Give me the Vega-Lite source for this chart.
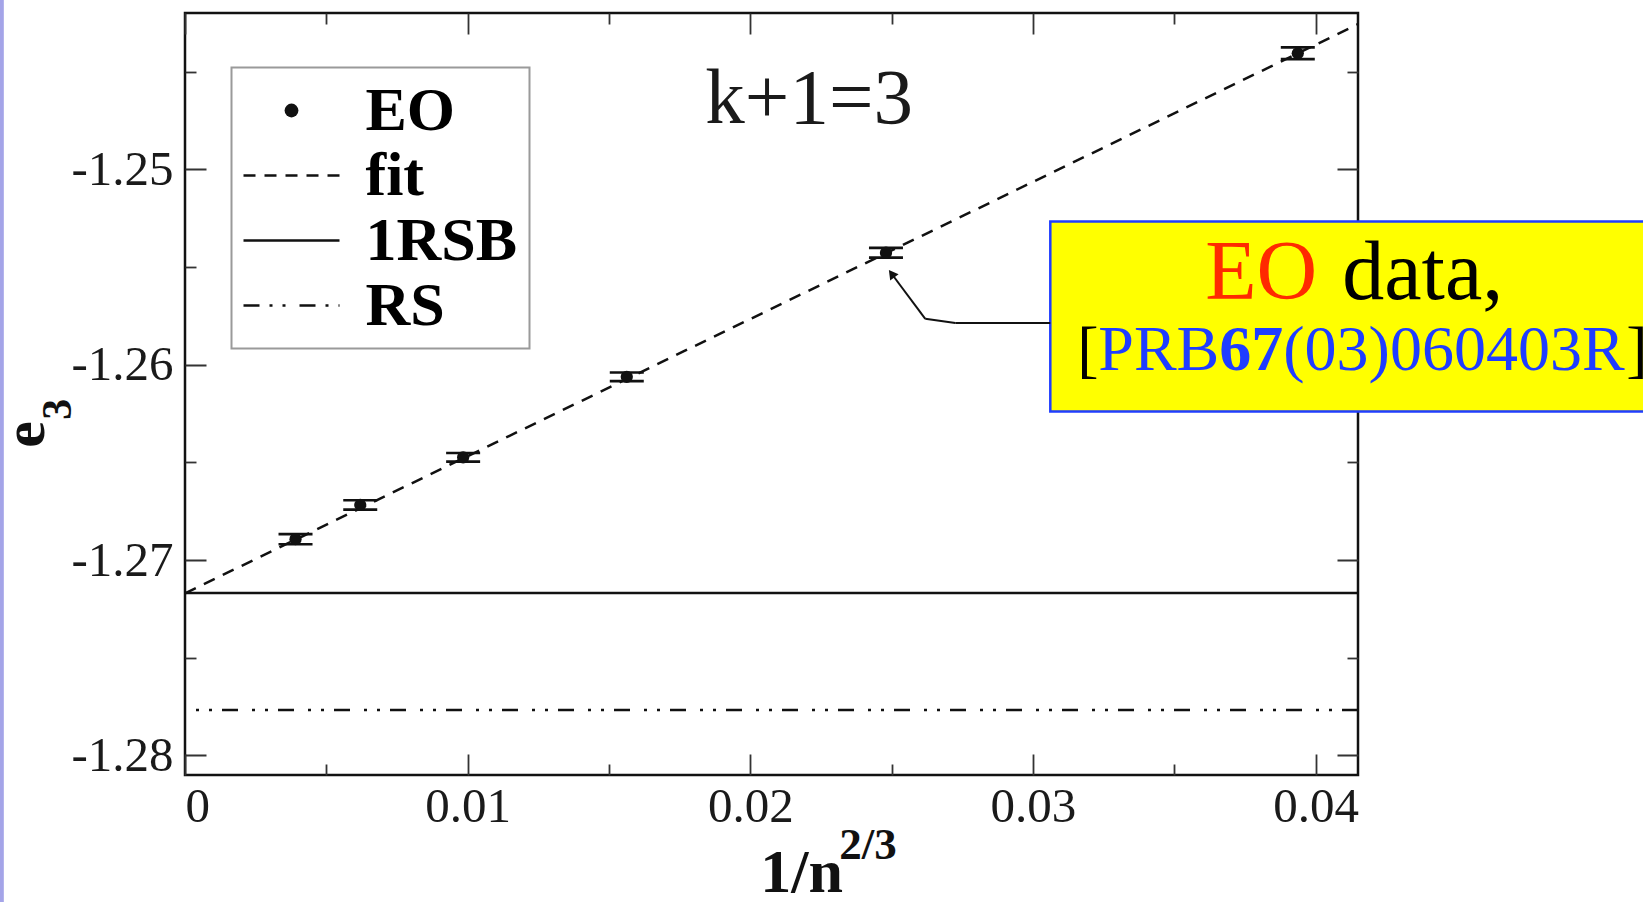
{
  "$schema": "https://vega.github.io/schema/vega-lite/v6.json",
  "width": 1173,
  "height": 762,
  "autosize": {"type": "none"},
  "padding": {"left": 185, "top": 13, "right": 285, "bottom": 127},
  "background": "white",
  "config": {
    "view": {"stroke": "#111111", "strokeWidth": 2.5},
    "font": "Liberation Serif",
    "axis": {
      "grid": false,
      "domain": false,
      "tickColor": "#333333",
      "tickWidth": 1.8,
      "labelFont": "Liberation Serif",
      "labelFontSize": 49,
      "labelColor": "#1a1a1a",
      "title": null
    }
  },
  "datasets": {
    "eo": [
      {"x": 0.00391, "y": -1.26893, "err": 0.00026},
      {"x": 0.0062, "y": -1.26718, "err": 0.00024},
      {"x": 0.00984, "y": -1.26474, "err": 0.00022},
      {"x": 0.01563, "y": -1.26062, "err": 0.00022},
      {"x": 0.0248, "y": -1.25427, "err": 0.00025},
      {"x": 0.03937, "y": -1.24406, "err": 0.0003}
    ],
    "fit": [
      {"x": 0, "e": -1.2717},
      {"x": 0.0415, "e": -1.24257}
    ],
    "limits": [
      {"series": "1RSB", "e": -1.27169},
      {"series": "RS", "e": -1.27767}
    ]
  },
  "resolve": {"axis": {"x": "independent", "y": "independent"}},
  "layer": [
    {
      "data": {"values": [{}]},
      "mark": {"type": "rect", "color": "#a4a4e8"},
      "encoding": {
        "x": {"datum": -0.007, "axis": null},
        "x2": {"datum": -0.00641},
        "y": {"datum": -1.3, "axis": null},
        "y2": {"datum": -1.23}
      }
    },
    {
      "data": {"name": "limits"},
      "mark": {"type": "rule", "color": "#111111", "strokeWidth": 2.5},
      "encoding": {
        "y": {"field": "e", "type": "quantitative", "axis": null},
        "strokeDash": {
          "field": "series",
          "type": "nominal",
          "scale": {
            "domain": ["EO", "fit", "1RSB", "RS"],
            "range": [[1, 0], [12, 9], [1, 0], [16, 10, 3, 10, 3, 14]]
          },
          "legend": {
            "title": null,
            "orient": "none",
            "legendX": 46.5,
            "legendY": 54.5,
            "direction": "vertical",
            "columns": 1,
            "padding": 12,
            "fillColor": "white",
            "strokeColor": "#9a9a9a",
            "symbolType": "stroke",
            "symbolSize": 9216,
            "symbolStrokeWidth": 2.5,
            "symbolStrokeColor": "#111111",
            "symbolOffset": 17,
            "labelFont": "Liberation Serif",
            "labelFontWeight": "bold",
            "labelFontSize": 62,
            "labelColor": "#000000",
            "labelOffset": 43,
            "rowPadding": 3,
            "encode": {
              "legend": {"update": {"strokeWidth": {"value": 2}}},
              "symbols": {
                "update": {
                  "shape": {"signal": "datum.value === 'EO' ? 'circle' : 'stroke'"},
                  "size": {"signal": "datum.value === 'EO' ? 190 : 9216"},
                  "fill": {"signal": "datum.value === 'EO' ? '#111111' : 'transparent'"},
                  "stroke": {"value": "#111111"},
                  "strokeWidth": {"signal": "datum.value === 'EO' ? 0 : 2.5"},
                  "opacity": {"value": 1},
                  "strokeOpacity": {"value": 1},
                  "fillOpacity": {"value": 1}
                }
              }
            }
          }
        }
      }
    },
    {
      "data": {"name": "fit"},
      "mark": {"type": "line", "color": "#111111", "strokeWidth": 2.5, "strokeDash": [12, 9]},
      "encoding": {
        "x": {
          "field": "x",
          "type": "quantitative",
          "scale": {"domain": [0, 0.0415], "nice": false, "zero": false},
          "axis": {
            "orient": "bottom",
            "values": [0, 0.005, 0.01, 0.015, 0.02, 0.025, 0.03, 0.035, 0.04],
            "format": "~g",
            "labelExpr": "round(datum.value * 200) % 2 === 0 ? datum.label : ''",
            "tickSize": -21,
            "labelPadding": 28,
            "tickDash": {"condition": {"test": "round(datum.value * 200) % 2 !== 0", "value": [11, 40]}, "value": [1, 0]}
          }
        },
        "y": {
          "field": "e",
          "type": "quantitative",
          "scale": {"domain": [-1.281, -1.242], "nice": false, "zero": false},
          "axis": {
            "orient": "left",
            "values": [-1.28, -1.275, -1.27, -1.265, -1.26, -1.255, -1.25, -1.245],
            "format": ".2f",
            "labelExpr": "round(datum.value * 200) % 2 === 0 ? replace(datum.label, '\u2212', '-') : ''",
            "tickSize": -21,
            "labelPadding": 33,
            "tickDash": {"condition": {"test": "round(datum.value * 200) % 2 !== 0", "value": [11, 40]}, "value": [1, 0]}
          }
        }
      }
    },
    {
      "data": {"name": "eo"},
      "mark": {"type": "errorbar", "color": "#111111", "thickness": 3, "opacity": 1, "ticks": {"size": 34, "thickness": 2.6, "color": "#111111", "opacity": 1}},
      "encoding": {
        "x": {"field": "x", "type": "quantitative", "axis": null},
        "y": {"field": "y", "type": "quantitative", "axis": null},
        "yError": {"field": "err"}
      }
    },
    {
      "data": {"name": "eo"},
      "mark": {"type": "circle", "size": 150, "color": "#111111", "opacity": 1},
      "encoding": {
        "x": {
          "field": "x",
          "type": "quantitative",
          "axis": {
            "orient": "top",
            "values": [0, 0.005, 0.01, 0.015, 0.02, 0.025, 0.03, 0.035, 0.04],
            "labels": false,
            "tickSize": -21,
            "tickDash": {"condition": {"test": "round(datum.value * 200) % 2 !== 0", "value": [11, 40]}, "value": [1, 0]}
          }
        },
        "y": {
          "field": "y",
          "type": "quantitative",
          "axis": {
            "orient": "right",
            "values": [-1.28, -1.275, -1.27, -1.265, -1.26, -1.255, -1.25, -1.245],
            "labels": false,
            "tickSize": -21,
            "tickDash": {"condition": {"test": "round(datum.value * 200) % 2 !== 0", "value": [11, 40]}, "value": [1, 0]}
          }
        }
      }
    },
    {
      "data": {"values": [{}]},
      "mark": {"type": "rect", "fill": "#ffff00", "stroke": "#1f3dff", "strokeWidth": 2.5},
      "encoding": {
        "x": {"datum": 0.030614, "axis": null},
        "x2": {"datum": 0.058},
        "y": {"datum": -1.25267, "axis": null},
        "y2": {"datum": -1.26239}
      }
    },
    {
      "data": {"values": [{}]},
      "mark": {"type": "rule", "color": "#111111", "strokeWidth": 2},
      "encoding": {
        "x": {"datum": 0.030614, "axis": null},
        "x2": {"datum": 0.027252},
        "y": {"datum": -1.257867, "axis": null},
        "y2": {"datum": -1.257867}
      }
    },
    {
      "data": {"values": [{}]},
      "mark": {"type": "rule", "color": "#111111", "strokeWidth": 2},
      "encoding": {
        "x": {"datum": 0.027252, "axis": null},
        "x2": {"datum": 0.026191},
        "y": {"datum": -1.257867, "axis": null},
        "y2": {"datum": -1.25765}
      }
    },
    {
      "data": {"values": [{}]},
      "mark": {"type": "rule", "color": "#111111", "strokeWidth": 2},
      "encoding": {
        "x": {"datum": 0.026191, "axis": null},
        "x2": {"datum": 0.025},
        "y": {"datum": -1.25765, "axis": null},
        "y2": {"datum": -1.255345}
      }
    },
    {
      "data": {"values": [{}]},
      "mark": {"type": "point", "shape": "triangle-up", "filled": true, "color": "#111111", "size": 110, "angle": 323, "opacity": 1},
      "encoding": {
        "x": {"datum": 0.025, "axis": null},
        "y": {"datum": -1.255345, "axis": null}
      }
    },
    {
      "data": {"values": [{}]},
      "mark": {"type": "text", "text": "k+1=3", "font": "Liberation Serif", "fontSize": 79, "align": "left", "baseline": "alphabetic", "color": "#1a1a1a"},
      "encoding": {
        "x": {"datum": 0.01841, "axis": null},
        "y": {"datum": -1.24761, "axis": null}
      }
    },
    {
      "data": {"values": [{}]},
      "mark": {"type": "text", "text": "EO", "font": "Liberation Serif", "fontSize": 84, "align": "left", "baseline": "alphabetic", "color": "#ff2a00", "dx": 125},
      "encoding": {
        "x": {"datum": 0.031675, "axis": null},
        "y": {"datum": -1.256624, "axis": null}
      }
    },
    {
      "data": {"values": [{}]},
      "mark": {"type": "text", "text": "data,", "font": "Liberation Serif", "fontSize": 84, "align": "left", "baseline": "alphabetic", "color": "#000000", "dx": 262},
      "encoding": {
        "x": {"datum": 0.031675, "axis": null},
        "y": {"datum": -1.256624, "axis": null}
      }
    },
    {
      "data": {"values": [{}]},
      "mark": {"type": "text", "text": "[", "font": "Liberation Serif", "fontSize": 64, "align": "left", "baseline": "alphabetic", "color": "#000000", "dx": -3},
      "encoding": {
        "x": {"datum": 0.031675, "axis": null},
        "y": {"datum": -1.260256, "axis": null}
      }
    },
    {
      "data": {"values": [{}]},
      "mark": {"type": "text", "text": "PRB", "font": "Liberation Serif", "fontSize": 64, "align": "left", "baseline": "alphabetic", "color": "#1f3dff", "dx": 18},
      "encoding": {
        "x": {"datum": 0.031675, "axis": null},
        "y": {"datum": -1.260256, "axis": null}
      }
    },
    {
      "data": {"values": [{}]},
      "mark": {"type": "text", "text": "67", "font": "Liberation Serif", "fontSize": 64, "fontWeight": "bold", "align": "left", "baseline": "alphabetic", "color": "#1f3dff", "dx": 139},
      "encoding": {
        "x": {"datum": 0.031675, "axis": null},
        "y": {"datum": -1.260256, "axis": null}
      }
    },
    {
      "data": {"values": [{}]},
      "mark": {"type": "text", "text": "(03)060403R", "font": "Liberation Serif", "fontSize": 64, "align": "left", "baseline": "alphabetic", "color": "#1f3dff", "dx": 203},
      "encoding": {
        "x": {"datum": 0.031675, "axis": null},
        "y": {"datum": -1.260256, "axis": null}
      }
    },
    {
      "data": {"values": [{}]},
      "mark": {"type": "text", "text": "]", "font": "Liberation Serif", "fontSize": 64, "align": "left", "baseline": "alphabetic", "color": "#000000", "dx": 546},
      "encoding": {
        "x": {"datum": 0.031675, "axis": null},
        "y": {"datum": -1.260256, "axis": null}
      }
    },
    {
      "data": {"values": [{}]},
      "mark": {"type": "text", "text": "1/n", "font": "Liberation Serif", "fontSize": 62, "fontWeight": "bold", "align": "left", "baseline": "alphabetic", "color": "#111111"},
      "encoding": {
        "x": {"datum": 0.020354, "axis": null},
        "y": {"datum": -1.28701, "axis": null}
      }
    },
    {
      "data": {"values": [{}]},
      "mark": {"type": "text", "text": "2/3", "font": "Liberation Serif", "fontSize": 45, "fontWeight": "bold", "align": "left", "baseline": "alphabetic", "color": "#111111"},
      "encoding": {
        "x": {"datum": 0.02315, "axis": null},
        "y": {"datum": -1.28532, "axis": null}
      }
    },
    {
      "data": {"values": [{}]},
      "mark": {"type": "text", "text": "e", "font": "Liberation Serif", "fontSize": 60, "fontWeight": "bold", "align": "left", "baseline": "alphabetic", "angle": 270, "color": "#111111"},
      "encoding": {
        "x": {"datum": -0.004978, "axis": null},
        "y": {"datum": -1.264246, "axis": null}
      }
    },
    {
      "data": {"values": [{}]},
      "mark": {"type": "text", "text": "3", "font": "Liberation Serif", "fontSize": 42, "fontWeight": "bold", "align": "left", "baseline": "alphabetic", "angle": 270, "color": "#111111"},
      "encoding": {
        "x": {"datum": -0.004023, "axis": null},
        "y": {"datum": -1.26282, "axis": null}
      }
    }
  ]
}
